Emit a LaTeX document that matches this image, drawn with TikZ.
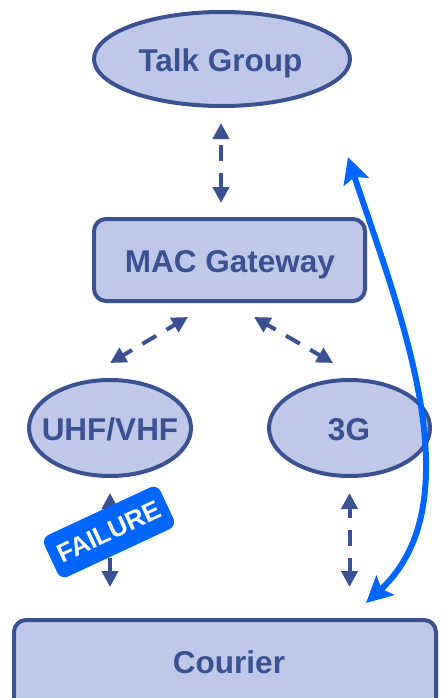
\documentclass[tikz,border=0pt]{standalone}
\usepackage{fontspec}
\setmainfont{Liberation Sans}
\usetikzlibrary{arrows.meta,shapes.geometric}
\definecolor{edgeblue}{RGB}{59,81,145}
\definecolor{fillblue}{RGB}{191,200,232}
\definecolor{brightblue}{RGB}{0,102,255}
\begin{document}
\begin{tikzpicture}[x=1pt,y=-1pt,
  ell/.style={ellipse, draw=edgeblue, fill=fillblue, line width=4pt, inner sep=0pt},
  box/.style={rectangle, rounded corners=12pt, draw=edgeblue, fill=fillblue, line width=4pt, inner sep=0pt},
  lbl/.style={text=edgeblue, font=\fontsize{31.5}{36}\selectfont\bfseries, inner sep=0pt, anchor=base},
  link/.style={draw=edgeblue, line width=4pt, dash pattern=on 16pt off 12pt, dash phase=6pt,
    {Triangle[length=16pt,width=16pt]}-{Triangle[length=16pt,width=16pt]}},
  bluelink/.style={draw=brightblue, line width=6pt,
    {Stealth[length=26pt,width=26pt,inset=5pt]}-{Stealth[length=26pt,width=26pt,inset=5pt]}},
  failbadge/.style={fill=brightblue, text=white, rounded corners=8pt, inner sep=0pt,
    font=\fontsize{26}{30}\selectfont\bfseries, minimum width=128pt, minimum height=46pt}
]
\useasboundingbox (0,0) rectangle (440,698);
\clip (0,0) rectangle (440,698);
% nodes
\node[ell, minimum width=256pt, minimum height=94pt] (tg) at (222,59) {};
\node[lbl] (tgt) at (220.5,72) {Talk Group};
\node[box, minimum width=271pt, minimum height=82pt] (mac) at (229.5,260) {};
\node[lbl] (mact) at (230,272) {MAC Gateway};
\node[ell, minimum width=162pt, minimum height=96pt] (uhf) at (110,428) {};
\node[lbl] (uhft) at (110,440) {UHF/VHF};
\node[ell, minimum width=161pt, minimum height=96pt] (g3) at (349.5,428) {};
\node[lbl] (g3t) at (349,440) {3G};
\node[box, minimum width=422pt, minimum height=120pt] (courier) at (225,680) {};
\node[lbl] (couriert) at (229,673) {Courier};
% dashed connectors
\draw[link, dash phase=21pt] ([xshift=-1pt,yshift=-15pt]tg.south) -- ([xshift=-1pt,yshift=14pt]tg.south |- mac.north);
\draw[link] ([xshift=-41.5pt,yshift=-14pt]mac.south) -- ([yshift=15pt]uhf.north);
\draw[link] ([xshift=24.5pt,yshift=-14pt]mac.south) -- ([xshift=-16.5pt,yshift=15pt]g3.north);
\draw[link] ([yshift=-15pt]uhf.south) -- ([yshift=31pt]uhf.south |- courier.north);
\draw[link] ([yshift=-15pt]g3.south) -- ([yshift=31pt]g3.south |- courier.north);
% failure badge
\node[failbadge, rotate=25] (failure) at (109,532) {FAILURE};
% blue curved connector
\coordinate (btop) at (348,157);
\coordinate (bbot) at (366,603);
\draw[bluelink] (btop) .. controls (395,300) and (478,500) .. (bbot);
\end{tikzpicture}
\end{document}
